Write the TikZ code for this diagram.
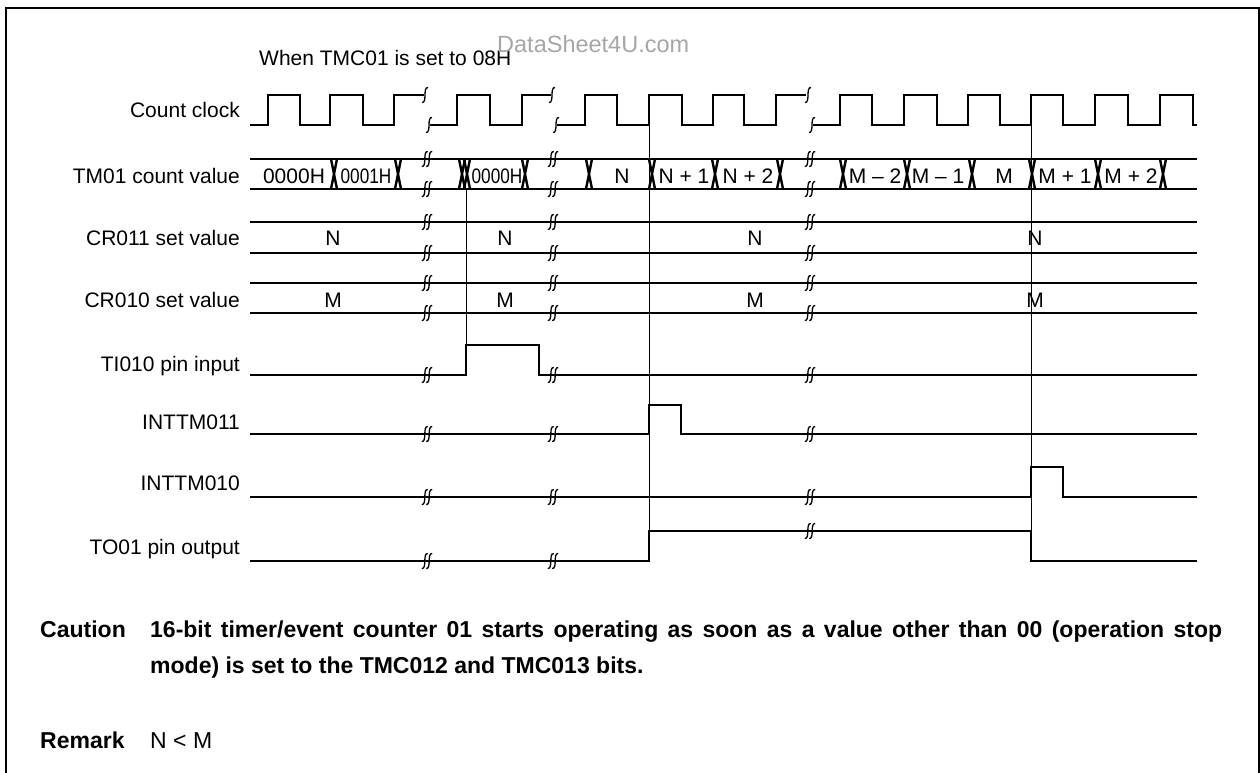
\documentclass[tikz,border=0pt]{standalone}
\usepackage{fontspec}
\setmainfont{Liberation Sans}
\tikzset{
  sig/.style={line width=2.6pt, line join=miter, line cap=butt},
  guide/.style={line width=1pt},
  lbl/.style={anchor=base east, inner sep=0pt, font=\fontsize{21}{25}\selectfont},
  val/.style={anchor=base, inner sep=0pt, font=\fontsize{21}{25}\selectfont},
  note/.style={anchor=base west, inner sep=0pt, font=\fontsize{23}{27}\selectfont},
  boldnote/.style={note, font=\fontsize{23}{27}\selectfont\bfseries},
  xing/.pic={\draw[line width=2.4pt] (-3,-15) -- (3,15) (-3,15) -- (3,-15);},
  sq/.pic={\draw[line width=1.3pt] (3,-7.5) .. controls (-2.5,-8) and (2.5,8) .. (-3,7.5);},
  dsq/.pic={\pic at (-2.2,0) {sq}; \pic at (2.2,0) {sq};},
}
\begin{document}
\begin{tikzpicture}[x=1pt,y=-1pt]
\useasboundingbox (0,0) rectangle (1260,772);
% frame
\draw[line width=2pt] (6,790) -- (6,8) -- (1259,8) -- (1259,790);

% title and watermark
\node[anchor=base west, inner sep=0pt, font=\fontsize{21}{25}\selectfont] (title) at (259,65) {When TMC01 is set to 08H};
\node[anchor=base west, inner sep=0pt, text=black!35, font=\fontsize{23.5}{27}\selectfont] (wm) at (497,52) {DataSheet4U.com};

% labels
\node[lbl] (lclk) at (240,117) {Count clock};
\node[lbl] (ltm) at (240,183) {TM01 count value};
\node[lbl] (lcr11) at (240,245) {CR011 set value};
\node[lbl] (lcr10) at (240,307) {CR010 set value};
\node[lbl] (lti) at (240,371) {TI010 pin input};
\node[lbl] (lint11) at (240,429) {INTTM011};
\node[lbl] (lint10) at (240,490) {INTTM010};
\node[lbl] (lto) at (240,554) {TO01 pin output};

% guide lines
\draw[guide] (466,189) -- (466,345);
\draw[guide] (649,125) -- (649,561);
\draw[guide] (1031,125) -- (1031,561);

% count clock
\draw[sig] (250,125) -- (268,125) -- (268,95) -- (300,95) -- (300,125) -- (330,125) -- (330,95) -- (363,95) -- (363,125) -- (394,125) -- (394,95) -- (424,95);
\draw[sig] (430,125) -- (457,125) -- (457,95) -- (490,95) -- (490,125) -- (522,125) -- (522,95) -- (551,95);
\draw[sig] (557,125) -- (585,125) -- (585,95) -- (617,95) -- (617,125) -- (649,125) -- (649,95) -- (682,95) -- (682,125) -- (713,125) -- (713,95) -- (744,95) -- (744,125) -- (776,125) -- (776,95) -- (806,95);
\draw[sig] (813,125) -- (840,125) -- (840,95) -- (872,95) -- (872,125) -- (904,125) -- (904,95) -- (937,95) -- (937,125) -- (968,125) -- (968,95) -- (1000,95) -- (1000,125) -- (1031,125) -- (1031,95) -- (1063,95) -- (1063,125) -- (1095,125) -- (1095,95) -- (1128,95) -- (1128,125) -- (1160,125) -- (1160,95) -- (1193,95) -- (1193,125) -- (1197,125);
\foreach \x in {425,552,808} \pic at (\x,95) {sq};
\foreach \x in {429,556,812} \pic at (\x,125) {sq};

% TM01 bus
\draw[sig] (250,159) -- (1197,159) (250,189) -- (1197,189);
\foreach \x in {334,398,462,467,525,589,652,715,780,843,907,972,1032,1098,1163} \pic at (\x,174) {xing};
\foreach \x in {427,553,810} {\pic at (\x,159) {dsq}; \pic at (\x,189) {dsq};}
\node[val] (v1) at (294,183) {0000H};
\node[val] (v2) at (366,183) {\scalebox{0.82}[1]{0001H}};
\node[val] (v3) at (497,183) {\scalebox{0.82}[1]{0000H}};
\node[val] (v4) at (622,183) {N};
\node[val] (v5) at (684,183) {N + 1};
\node[val] (v6) at (748,183) {N + 2};
\node[val] (v7) at (875,183) {M -- 2};
\node[val] (v8) at (938,183) {M -- 1};
\node[val] (v9) at (1004,183) {M};
\node[val] (v10) at (1065,183) {M + 1};
\node[val] (v11) at (1131,183) {M + 2};

% CR011 / CR010
\draw[sig] (250,222) -- (1197,222) (250,253) -- (1197,253);
\draw[sig] (250,283) -- (1197,283) (250,313) -- (1197,313);
\foreach \x in {427,553,810} {\pic at (\x,222) {dsq}; \pic at (\x,253) {dsq}; \pic at (\x,283) {dsq}; \pic at (\x,313) {dsq};}
\foreach \x/\n in {333/a,505/b,755/c,1035/d} {
  \node[val] (n\n) at (\x,245) {N};
  \node[val] (m\n) at (\x,307) {M};
}

% TI010
\draw[sig] (250,375) -- (466,375) -- (466,345) -- (539,345) -- (539,375) -- (1197,375);
% INTTM011
\draw[sig] (250,434) -- (649,434) -- (649,405) -- (681,405) -- (681,434) -- (1197,434);
% INTTM010
\draw[sig] (250,497) -- (1031,497) -- (1031,467) -- (1063,467) -- (1063,497) -- (1197,497);
% TO01
\draw[sig] (250,561) -- (649,561) -- (649,531) -- (1031,531) -- (1031,561) -- (1197,561);
\foreach \x in {427,553,810} {\pic at (\x,375) {dsq}; \pic at (\x,434) {dsq}; \pic at (\x,497) {dsq};}
\foreach \x in {427,553} \pic at (\x,561) {dsq};
\pic at (810,531) {dsq};

% notes
\node[boldnote] (caut) at (40,637) {Caution};
\node[boldnote] (c1) at (150,637) {\makebox[1072pt][s]{16-bit timer/event counter 01 starts operating as soon as a value other than 00 (operation stop}};
\node[boldnote] (c2) at (150,673) {mode) is set to the TMC012 and TMC013 bits.};
\node[boldnote] (rem) at (40,748) {Remark};
\node[note] (r1) at (150,748) {N < M};
\end{tikzpicture}
\end{document}
